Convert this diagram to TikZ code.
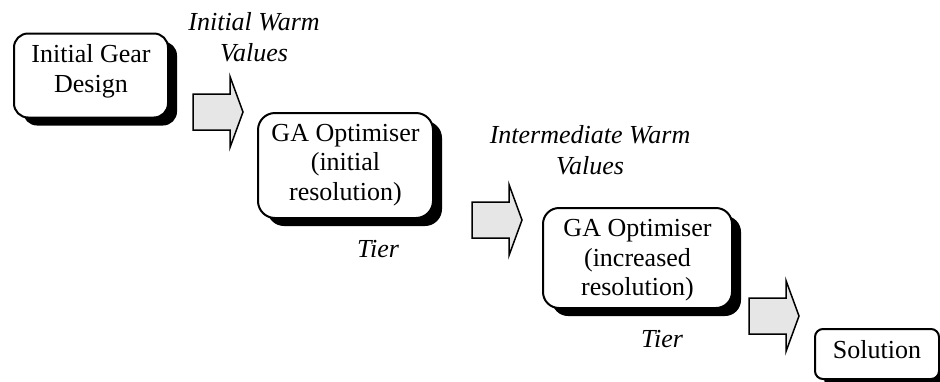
\documentclass[tikz,border=0pt]{standalone}
\usepackage{fontspec}
\setmainfont{Liberation Serif}
\usetikzlibrary{shadows}
\definecolor{arrowgray}{HTML}{E6E6E6}
\tikzset{
  gbox/.style={draw=black, line width=2pt, fill=white, align=center, inner sep=0pt,
    font=\fontsize{26}{29.5}\selectfont,
    drop shadow={shadow xshift=9pt, shadow yshift=-8pt, fill=black, opacity=1}},
  lbl/.style={font=\fontsize{26}{31}\selectfont\itshape, align=center, inner sep=0pt},
  blockarrow/.pic={\draw[line width=1.5pt, fill=arrowgray, line join=miter]
    (0,-18)--(37,-18)--(37,-35.5)--(50,0)--(37,35.5)--(37,18)--(0,18)--cycle;}
}
\begin{document}
\begin{tikzpicture}[x=1pt,y=-1pt]
\useasboundingbox (0,0) rectangle (940,381);
% boxes
\node[gbox, rounded corners=14pt, minimum width=154pt, minimum height=84pt, text depth=13.6pt]
  (b1) at (91,75.5) {Initial Gear\\Design};
\node[gbox, rounded corners=17pt, minimum width=175pt, minimum height=105pt, text depth=6.6pt]
  (b2) at (345.5,165.5) {GA Optimiser\\(initial\\resolution)};
\node[gbox, rounded corners=16pt, minimum width=189pt, minimum height=100pt, text depth=1pt]
  (b3) at (637.5,258) {GA Optimiser\\(increased\\resolution)};
\node[gbox, rounded corners=8pt, minimum width=124pt, minimum height=50pt, text depth=10pt]
  (b4) at (877,354) {Solution};
% block arrows
\pic (a1) at (193,112) {blockarrow};
\pic (a2) at (472,220) {blockarrow};
\pic (a3) at (749,316) {blockarrow};
% labels
\node[lbl] (l1) at (254,37.6) {Initial Warm\\Values};
\node[lbl] (l2) at (590,150) {Intermediate Warm\\Values};
\node[lbl, anchor=base] (t1) at (378,257) {Tier};
\node[lbl, anchor=base] (t2) at (662,347) {Tier};
\end{tikzpicture}
\end{document}
